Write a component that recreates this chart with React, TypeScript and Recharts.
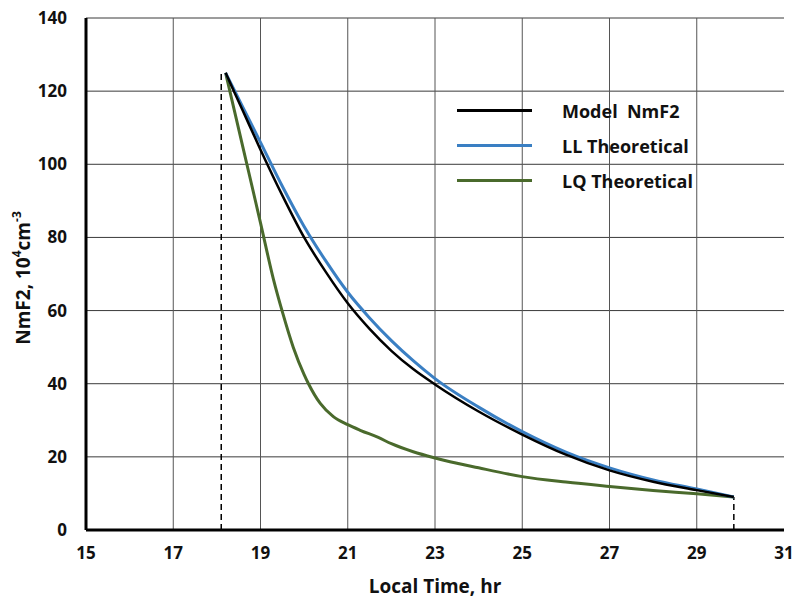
import React from 'react';
import { LineChart, Line, XAxis, YAxis, CartesianGrid, ReferenceLine } from 'recharts';

const xTicks = [15, 17, 19, 21, 23, 25, 27, 29, 31];
const yTicks = [0, 20, 40, 60, 80, 100, 120, 140];
const gridX = [17, 19, 21, 23, 25, 27, 29];

const modelX = [18.2, 18.6, 19, 19.5, 20, 20.5, 21, 21.5, 22, 22.5, 23, 24, 25, 26, 27, 28, 29, 29.85];
const modelY = [125, 114.5, 104, 91.5, 80, 70.5, 62, 55, 49, 44, 39.8, 32.4, 26.1, 20.6, 16.3, 13.2, 10.9, 9];

const llX = [18.2, 18.6, 19, 19.5, 20, 20.5, 21, 21.5, 22, 22.5, 23, 24, 25, 26, 27, 28, 29, 29.85];
const llY = [125, 115.5, 106, 94, 83, 73.5, 65, 58, 51.8, 46.3, 41.4, 33.6, 26.9, 21.3, 17, 13.7, 11.2, 9];

const lqX = [18.2, 18.6, 19, 19.3, 19.5, 19.75, 20, 20.1, 20.37, 20.67, 21, 21.3, 21.7, 22, 22.5, 23, 24, 25, 26, 27, 28, 29, 29.85];
const lqY = [125, 104.5, 84, 68.4, 59.7, 50, 42.5, 40, 34.6, 31, 28.8, 27.2, 25.3, 23.6, 21.4, 19.7, 17, 14.6, 13.1, 11.9, 10.8, 9.9, 9];

const startX = [18.1, 18.1];
const startY = [0, 125];
const endX = [29.85, 29.85];
const endY = [0, 9];

const seriesNames = ['Model  NmF2', 'LL Theoretical', 'LQ Theoretical'];
const seriesColors = ['#000000', '#3a7fc3', '#4a6a2c'];

const zip = (xs: number[], ys: number[]) => xs.map((x, i) => ({ x, y: ys[i] }));

const modelData = zip(modelX, modelY);
const llData = zip(llX, llY);
const lqData = zip(lqX, lqY);
const startData = zip(startX, startY);
const endData = zip(endX, endY);

const FONT = '"Open Sans", "Liberation Sans", sans-serif';

const LegendBox = () => (
  <div
    style={{
      position: 'absolute',
      left: 457,
      top: 93,
      width: 300,
      fontFamily: FONT,
      fontWeight: 700,
      fontSize: 18,
      color: '#111',
      lineHeight: '20px',
    }}
  >
    {seriesNames.map((n, i) => (
      <div key={n} style={{ display: 'flex', alignItems: 'center', height: 35 }}>
        <div style={{ width: 75, height: 3, background: seriesColors[i], marginRight: 30 }} />
        <span style={{ whiteSpace: 'pre' }}>{n}</span>
      </div>
    ))}
  </div>
);

export default function App() {
  return (
    <div style={{ position: 'absolute', left: 0, top: 0, width: 796, height: 601, background: '#fff' }}>
      <LineChart width={796} height={601} margin={{ top: 18, right: 12, bottom: 41, left: 26 }}>
        <CartesianGrid horizontal vertical={false} stroke="#3a3a3a" strokeWidth={1} />
        {gridX.map((gx) => (
          <ReferenceLine key={gx} x={gx} stroke="#555" strokeWidth={1} />
        ))}
        <XAxis
          type="number"
          dataKey="x"
          domain={[15, 31]}
          ticks={xTicks}
          allowDataOverflow
          tickLine={false}
          tickSize={0}
          tickMargin={17}
          axisLine={{ stroke: '#000', strokeWidth: 3 }}
          height={30}
          tick={{ fill: '#111', fontSize: 17, fontWeight: 700, fontFamily: FONT }}
          label={{ value: 'Local Time, hr', position: 'bottom', offset: 20, style: { fill: '#111', fontSize: 19, fontWeight: 700, fontFamily: FONT } }}
        />
        <YAxis
          type="number"
          dataKey="y"
          domain={[0, 140]}
          ticks={yTicks}
          tickLine={false}
          tickSize={0}
          tickMargin={19}
          width={60}
          axisLine={{ stroke: '#000', strokeWidth: 3 }}
          tick={{ fill: '#111', fontSize: 17, fontWeight: 700, fontFamily: FONT }}
          label={(props: any) => {
            const vb = props.viewBox || {};
            const cy = (vb.y ?? 18) + (vb.height ?? 512) / 2 + 4;
            return (
              <text
                x={23}
                y={cy}
                transform={`rotate(-90 23 ${cy})`}
                textAnchor="middle"
                dominantBaseline="central"
                style={{ fill: '#111', fontSize: 19, fontWeight: 700, fontFamily: FONT }}
              >
                NmF2, 10<tspan dy={-7} fontSize={12}>4</tspan>
                <tspan dy={7}>cm</tspan>
                <tspan dy={-7} fontSize={12}>-3</tspan>
              </text>
            );
          }}
        />
        <Line data={startData} dataKey="y" stroke="#000" strokeWidth={1.5} strokeDasharray="6 4" dot={false} isAnimationActive={false} legendType="none" />
        <Line data={endData} dataKey="y" stroke="#000" strokeWidth={1.5} strokeDasharray="6 4" dot={false} isAnimationActive={false} legendType="none" />
        <Line data={lqData} dataKey="y" type="monotone" stroke={seriesColors[2]} strokeWidth={3} dot={false} isAnimationActive={false} />
        <Line data={llData} dataKey="y" type="monotone" stroke={seriesColors[1]} strokeWidth={3} dot={false} isAnimationActive={false} />
        <Line data={modelData} dataKey="y" type="monotone" stroke={seriesColors[0]} strokeWidth={2.5} dot={false} isAnimationActive={false} />
      </LineChart>
      <LegendBox />
    </div>
  );
}
